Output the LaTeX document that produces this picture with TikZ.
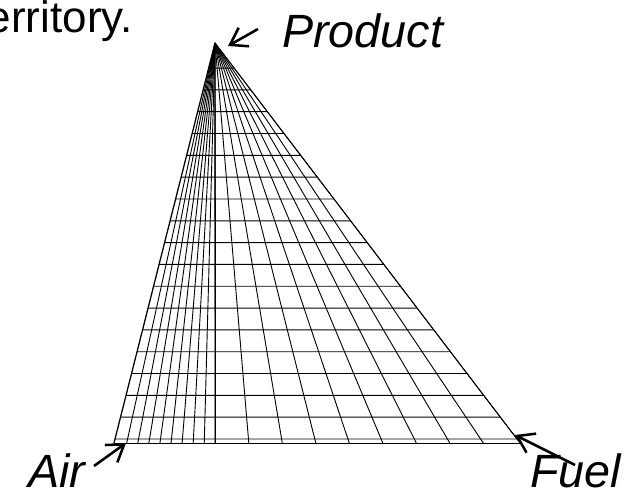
\documentclass[tikz,border=0pt]{standalone}
\usepackage{fontspec}
\setmainfont{Liberation Sans}
\usetikzlibrary{arrows.meta, calc}

\begin{document}
\begin{tikzpicture}[
  x=0.75pt, y=-0.75pt,
  >={Straight Barb[length=12pt, width=16pt]},
  grid/.style={line width=0.68pt, black},
  edge/.style={line width=0.95pt, black},
  lab/.style={font=\fontsize{35}{40}\selectfont\itshape, inner sep=0pt, anchor=base west},
  pointer/.style={->, line width=1.9pt, black}
]
\useasboundingbox (0,0) rectangle (626,490);
\clip (0,0) rectangle (626,490);

% ---- Corners ----
\coordinate (apex) at (215,43);
\coordinate (air) at (114,443);
\coordinate (fuel) at (517,439);
\coordinate (fuelb) at (520,443);

% ---- Rays to the base ----
\foreach \i in {1,...,8}
  \draw[grid] (apex) -- ({126.7+11.08*(\i-1)},443);
\foreach \i in {0,...,8}
  \draw[grid] (apex) -- ({215.3+33.5*\i},443);

% ---- Cross lines ----
\foreach \k in {0,...,17} {
  \pgfmathsetmacro{\yk}{439-21.82*\k}
  \pgfmathsetmacro{\fa}{(\yk-43)/400}
  \pgfmathsetmacro{\fb}{(\yk-43)/396}
  \draw[grid] ($(apex)!\fa!(air)$) -- ($(apex)!\fb!(fuel)$);
}
\draw[grid] (air) -- (fuelb);

% ---- Outline ----
\draw[edge] (apex) -- (air);
\draw[grid] (apex) -- (fuel);
\draw[grid] (apex) -- (fuelb);
\draw[edge] (apex) -- (215.3,443);

% ---- Labels ----
\node[font=\fontsize{33}{40}\selectfont, inner sep=0pt, anchor=base east] (txt) at (133,32) {territory.};
\node[lab] (product) at (282,47) {Product};
\node[lab] (airlab) at (28,487) {Air};
\node[lab] (fuellab) at (530,487) {Fuel};

% ---- Pointers ----
\coordinate (ptail) at (258,29);
\coordinate (ptip) at (228,46);
\coordinate (atail) at (94,466);
\coordinate (atip) at (126,443);
\coordinate (ftail) at (575,465);
\coordinate (ftip) at (515,435);
\draw[pointer] (ptail) -- (ptip);
\draw[pointer] (atail) -- (atip);
\draw[pointer] (ftail) -- (ftip);

\end{tikzpicture}
\end{document}
